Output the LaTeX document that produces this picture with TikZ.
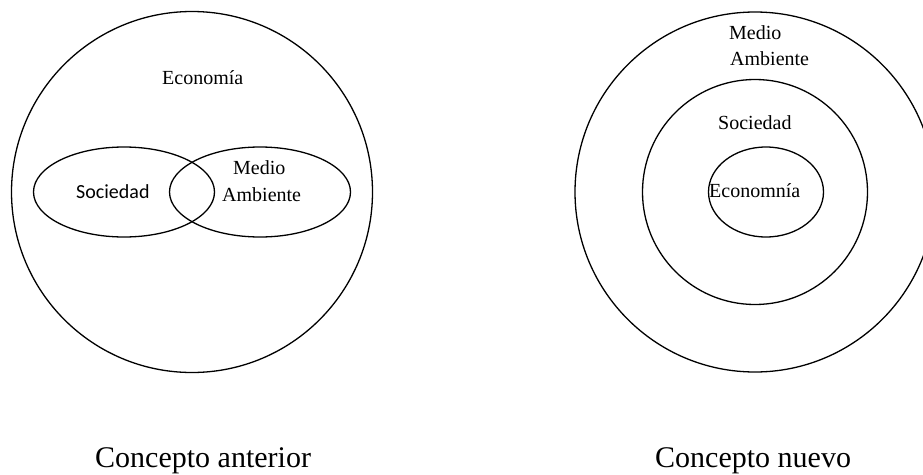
\documentclass[tikz,border=0pt]{standalone}
\usepackage{fontspec}
\setmainfont{Liberation Serif}
\newfontfamily\calfont{Carlito}
\begin{document}
\begin{tikzpicture}[x=1pt,y=-1pt,
  ring/.style={draw=black,line width=1.3pt},
  lbl/.style={inner sep=0pt,anchor=base west,font=\fontsize{20}{24}\selectfont},
  captxt/.style={inner sep=0pt,anchor=base west,font=\fontsize{30}{36}\selectfont}]
\useasboundingbox[fill=white] (0,0) rectangle (923,474);
% left diagram
\draw[ring] (192,192) circle[radius=180.5];
\draw[ring] (124,192) ellipse[x radius=90.5,y radius=45];
\draw[ring] (260,192) ellipse[x radius=90.5,y radius=45];
\node[lbl] (eco1) at (162,84) {Economía};
\node[lbl,font=\calfont\fontsize{20}{24}\selectfont] (soc1) at (76,198) {Sociedad};
\node[lbl] (med1) at (233,174) {Medio};
\node[lbl] (amb1) at (222,201) {Ambiente};
% right diagram
\draw[ring] (755,192) circle[radius=180];
\draw[ring] (755,192) circle[radius=112.5];
\draw[ring] (766,192) ellipse[x radius=57.5,y radius=45];
\node[lbl] (med2) at (729,39) {Medio};
\node[lbl] (amb2) at (730,65) {Ambiente};
\node[lbl] (soc2) at (718,129) {Sociedad};
\node[lbl] (eco2) at (709,197) {Economnía};
% captions
\node[captxt] (c1) at (95,467) {Concepto anterior};
\node[captxt] (c2) at (655,467) {Concepto nuevo};
\end{tikzpicture}
\end{document}
